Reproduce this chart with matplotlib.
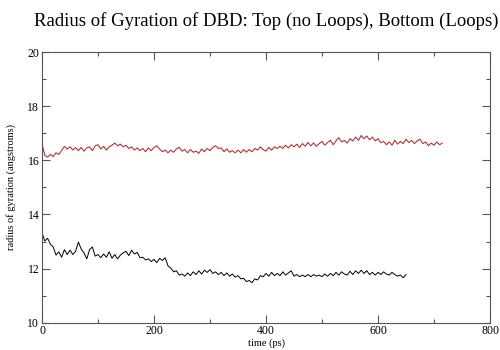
import numpy as np
import matplotlib
matplotlib.use('Agg')
import matplotlib.pyplot as plt
from matplotlib.ticker import MultipleLocator

# Sampling step of the traces (ps)
step_ps = 5

# Top trace: DBD without loops (red)
rg_no_loops = [
    16.62, 16.18, 16.12, 16.22, 16.14, 16.28, 16.22, 16.36, 16.52, 16.42,
    16.5, 16.38, 16.47, 16.36, 16.48, 16.34, 16.46, 16.5, 16.36, 16.54,
    16.58, 16.42, 16.52, 16.38, 16.5, 16.56, 16.64, 16.54, 16.6, 16.5,
    16.56, 16.44, 16.5, 16.38, 16.46, 16.36, 16.44, 16.32, 16.46, 16.36,
    16.48, 16.54, 16.42, 16.32, 16.38, 16.28, 16.38, 16.3, 16.42, 16.48,
    16.34, 16.4, 16.28, 16.4, 16.3, 16.34, 16.26, 16.42, 16.32, 16.44,
    16.36, 16.48, 16.54, 16.44, 16.46, 16.32, 16.42, 16.3, 16.36, 16.28,
    16.38, 16.28, 16.4, 16.3, 16.4, 16.32, 16.44, 16.38, 16.5, 16.4,
    16.34, 16.48, 16.38, 16.5, 16.44, 16.52, 16.44, 16.56, 16.46, 16.58,
    16.5, 16.6, 16.48, 16.62, 16.52, 16.66, 16.54, 16.64, 16.52, 16.62,
    16.7, 16.56, 16.66, 16.74, 16.58, 16.72, 16.84, 16.68, 16.74, 16.64,
    16.8, 16.72, 16.86, 16.74, 16.92, 16.8, 16.9, 16.76, 16.86, 16.72,
    16.8, 16.66, 16.7, 16.58, 16.68, 16.56, 16.74, 16.6, 16.7, 16.62,
    16.78, 16.66, 16.74, 16.62, 16.72, 16.78, 16.62, 16.68, 16.54, 16.64,
    16.56, 16.68, 16.58, 16.64,
]

# Bottom trace: DBD with loops (black)
rg_loops = [
    13.32, 13.02, 13.12, 12.9, 12.8, 12.5, 12.62, 12.42, 12.7, 12.52,
    12.68, 12.52, 12.64, 12.98, 12.72, 12.58, 12.36, 12.7, 12.8, 12.46,
    12.52, 12.4, 12.54, 12.42, 12.62, 12.38, 12.52, 12.36, 12.5, 12.58,
    12.64, 12.48, 12.68, 12.54, 12.6, 12.4, 12.42, 12.32, 12.36, 12.26,
    12.34, 12.22, 12.38, 12.3, 12.4, 12.1, 12.02, 11.88, 11.92, 11.76,
    11.8, 11.72, 11.84, 11.74, 11.88, 11.78, 11.92, 11.8, 11.94, 11.86,
    11.96, 11.82, 11.88, 11.78, 11.86, 11.74, 11.84, 11.72, 11.8, 11.68,
    11.74, 11.62, 11.64, 11.52, 11.56, 11.48, 11.62, 11.58, 11.74, 11.7,
    11.82, 11.72, 11.86, 11.74, 11.82, 11.74, 11.88, 11.76, 11.84, 11.92,
    11.72, 11.78, 11.7, 11.76, 11.7, 11.78, 11.7, 11.78, 11.72, 11.76,
    11.7, 11.8, 11.72, 11.82, 11.74, 11.86, 11.76, 11.88, 11.8, 11.76,
    11.9, 11.78, 11.92, 11.82, 11.94, 11.82, 11.92, 11.78, 11.86, 11.76,
    11.86, 11.78, 11.88, 11.8, 11.76, 11.86, 11.78, 11.72, 11.76, 11.66,
    11.78,
]

t_no_loops = np.arange(len(rg_no_loops)) * step_ps
t_loops = np.arange(len(rg_loops)) * step_ps

plt.rcParams['font.family'] = ['Liberation Serif', 'DejaVu Serif']

fig = plt.figure(figsize=(5, 3.5), dpi=100)
ax = fig.add_axes([0.084, 0.078, 0.896, 0.773])

ax.plot(t_no_loops, rg_no_loops, color='#c0161c', linewidth=0.7)
ax.plot(t_loops, rg_loops, color='black', linewidth=0.7)

ax.set_xlim(0, 800)
ax.set_ylim(10, 20)
ax.xaxis.set_major_locator(MultipleLocator(200))
ax.xaxis.set_minor_locator(MultipleLocator(100))
ax.yaxis.set_major_locator(MultipleLocator(2))
ax.yaxis.set_minor_locator(MultipleLocator(1))
ax.tick_params(which='both', direction='in', top=True, right=True,
               color='#555555', width=0.8)
ax.tick_params(which='major', length=6, labelsize=8.5, pad=2)
ax.tick_params(which='minor', length=3)
for s in ax.spines.values():
    s.set_color('#555555')
    s.set_linewidth(0.8)

ax.set_xlabel('time (ps)', fontsize=7.5, labelpad=1)
ax.set_ylabel('radius of gyration (angstroms)', fontsize=7.5, labelpad=8)
fig.text(0.532, 0.94, 'Radius of Gyration of DBD: Top (no Loops), Bottom (Loops)',
         ha='center', va='center', fontsize=13.5)

fig.savefig('out.png', dpi=100)
